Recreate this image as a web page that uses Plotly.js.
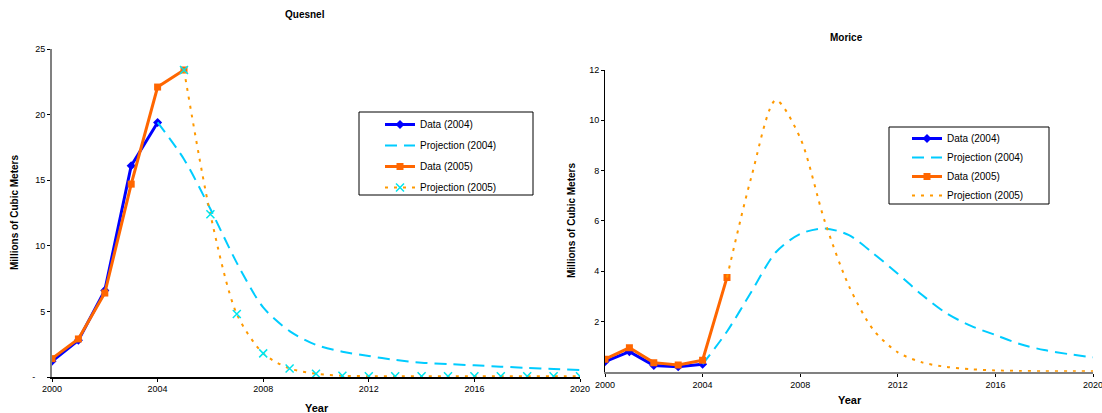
<!DOCTYPE html>
<html>
<head>
<meta charset="utf-8">
<script src="https://cdn.plot.ly/plotly-3.0.1.min.js"></script>
<style>html,body{margin:0;padding:0;background:#fff;}#chart{width:1102px;height:413px;}</style>
</head>
<body>
<div id="chart"></div>
<script>
// ---- Data ----
const qYearsData04 = [2000, 2001, 2002, 2003, 2004];
const qData04 = [1.2, 2.8, 6.6, 16.1, 19.4];
const qYearsData05 = [2000, 2001, 2002, 2003, 2004, 2005];
const qData05 = [1.4, 2.9, 6.4, 14.7, 22.1, 23.4];
const qYearsProj04 = [2004, 2005, 2006, 2007, 2008, 2009, 2010, 2011, 2012, 2013, 2014, 2015, 2016, 2017, 2018, 2019, 2020];
const qProj04 = [19.4, 16.6, 12.8, 8.7, 5.3, 3.5, 2.45, 1.93, 1.6, 1.3, 1.09, 0.99, 0.89, 0.79, 0.69, 0.61, 0.53];
const qYearsProj05 = [2005, 2006, 2007, 2008, 2009, 2010, 2011, 2012, 2013, 2014, 2015, 2016, 2017, 2018, 2019, 2020];
const qProj05 = [23.4, 12.4, 4.8, 1.8, 0.65, 0.25, 0.1, 0.06, 0.05, 0.05, 0.05, 0.05, 0.05, 0.05, 0.05, 0.05];

const mYearsData04 = [2000, 2001, 2002, 2003, 2004];
const mData04 = [0.4, 0.8, 0.25, 0.2, 0.3];
const mYearsData05 = [2000, 2001, 2002, 2003, 2004, 2005];
const mData05 = [0.5, 0.95, 0.36, 0.27, 0.46, 3.75];
const mYearsProj04 = [2004, 2005, 2006, 2007, 2008, 2009, 2010, 2011, 2012, 2013, 2014, 2015, 2016, 2017, 2018, 2019, 2020];
const mProj04 = [0.3, 1.6, 3.18, 4.75, 5.48, 5.7, 5.43, 4.7, 3.9, 3.05, 2.32, 1.82, 1.46, 1.1, 0.86, 0.7, 0.57];
const mYearsProj05 = [2005, 2006, 2007, 2008, 2009, 2010, 2011, 2012, 2013, 2014, 2015, 2016, 2017, 2018, 2019, 2020];
const mProj05 = [3.75, 7.75, 10.8, 9.3, 6.0, 3.4, 1.66, 0.77, 0.37, 0.19, 0.1, 0.05, 0.03, 0.02, 0.02, 0.02];

const xTickVals = [2000, 2004, 2008, 2012, 2016, 2020];
const qYTickVals = [0, 5, 10, 15, 20, 25];
const qYTickText = ['-\u00a0\u00a0\u00a0\u00a0', '5', '10', '15', '20', '25'];
const mYTickVals = [2, 4, 6, 8, 10, 12];
const legendNames = ['Data (2004)', 'Projection (2004)', 'Data (2005)', 'Projection (2005)'];

// ---- Styles ----
const BLUE = '#0000ff', CYAN = '#00ccff', ORANGE = '#ff6600', GOLD = '#ff9900';
const W = 1102, H = 413;
const F = 'Arial, "Liberation Sans", Helvetica, sans-serif';
const SM = 0.8;

const traces = [
  {x: qYearsData04, y: qData04, name: legendNames[0], mode: 'lines+markers', xaxis: 'x', yaxis: 'y', legend: 'legend', legendgroup: 'q1',
   line: {color: BLUE, width: 3}, marker: {symbol: 'diamond', size: 7, color: BLUE}},
  {x: qYearsProj04, y: qProj04, name: legendNames[1], mode: 'lines', xaxis: 'x', yaxis: 'y', legend: 'legend', legendgroup: 'q2',
   line: {color: CYAN, width: 2, dash: '12px,7px', shape: 'spline', smoothing: SM}},
  {x: qYearsData05, y: qData05, name: legendNames[2], mode: 'lines+markers', xaxis: 'x', yaxis: 'y', legend: 'legend', legendgroup: 'q3',
   line: {color: ORANGE, width: 3}, marker: {symbol: 'square', size: 7, color: ORANGE}},
  {x: qYearsProj05, y: qProj05, name: legendNames[3], mode: 'lines+markers', xaxis: 'x', yaxis: 'y', legend: 'legend', legendgroup: 'q4',
   line: {color: GOLD, width: 2, dash: '3px,6px', shape: 'spline', smoothing: SM},
   marker: {symbol: 'x-thin-open', size: 8, color: '#00e5ee', line: {color: '#00e5ee', width: 1.5}}},

  {x: mYearsData04, y: mData04, name: legendNames[0], mode: 'lines+markers', xaxis: 'x2', yaxis: 'y2', legend: 'legend2',
   line: {color: BLUE, width: 3}, marker: {symbol: 'diamond', size: 7, color: BLUE}},
  {x: mYearsProj04, y: mProj04, name: legendNames[1], mode: 'lines', xaxis: 'x2', yaxis: 'y2', legend: 'legend2',
   line: {color: CYAN, width: 2, dash: '12px,7px', shape: 'spline', smoothing: SM}},
  {x: mYearsData05, y: mData05, name: legendNames[2], mode: 'lines+markers', xaxis: 'x2', yaxis: 'y2', legend: 'legend2',
   line: {color: ORANGE, width: 3}, marker: {symbol: 'square', size: 7, color: ORANGE}},
  {x: mYearsProj05, y: mProj05, name: legendNames[3], mode: 'lines', xaxis: 'x2', yaxis: 'y2', legend: 'legend2',
   line: {color: GOLD, width: 2, dash: '3px,6px', shape: 'spline', smoothing: SM}}
];

const tickFont = {family: F, size: 9, color: '#000'};
const baseX = {range: [2000, 2020], tickvals: xTickVals, ticks: 'outside', ticklen: 3, tickcolor: '#000',
  showgrid: false, zeroline: false, showline: true, tickfont: tickFont, ticklabeloverflow: 'allow'};
const baseY = {ticks: 'outside', ticklen: 3, tickcolor: '#000', showgrid: false, zeroline: false, showline: true, tickfont: tickFont};

function ann(text, px, py, size, angle) {
  return {text: text, x: px / W, y: (H - py) / H, xref: 'paper', yref: 'paper', showarrow: false,
    xanchor: 'center', yanchor: 'middle', textangle: angle || 0, font: {size: size, family: F, color: '#000'}};
}

const layout = {
  width: W, height: H,
  margin: {l: 0, r: 0, t: 0, b: 0},
  paper_bgcolor: '#fff', plot_bgcolor: 'rgba(0,0,0,0)',
  font: {family: F, color: '#000'},
  xaxis: Object.assign({}, baseX, {domain: [52 / W, 580 / W], anchor: 'y', linecolor: '#000', linewidth: 1.5}),
  yaxis: Object.assign({}, baseY, {domain: [(H - 377) / H, (H - 49) / H], anchor: 'x', range: [0, 25],
    tickvals: qYTickVals, ticktext: qYTickText, linecolor: '#808080', linewidth: 2}),
  xaxis2: Object.assign({}, baseX, {domain: [605 / W, 1093 / W], anchor: 'y2', linecolor: '#808080', linewidth: 2}),
  yaxis2: Object.assign({}, baseY, {domain: [(H - 371.7) / H, (H - 70) / H], anchor: 'x2', range: [0, 12],
    tickvals: mYTickVals, linecolor: '#000', linewidth: 1}),
  shapes: [
    {type: 'rect', xref: 'paper', yref: 'paper', x0: 359 / W, x1: 533 / W, y0: (H - 195) / H, y1: (H - 112) / H,
     line: {color: '#000', width: 1}, fillcolor: '#fff', layer: 'above'},
    {type: 'rect', xref: 'paper', yref: 'paper', x0: 889 / W, x1: 1049 / W, y0: (H - 204) / H, y1: (H - 127) / H,
     line: {color: '#000', width: 1}, fillcolor: '#fff', layer: 'above'}
  ],
  legend: {x: 380 / W, y: (H - 110) / H, xanchor: 'left', yanchor: 'top', bgcolor: 'rgba(0,0,0,0)',
    borderwidth: 0, font: {family: F, size: 10, color: '#000'}, tracegroupgap: 2, itemwidth: 30},
  legend2: {x: 907 / W, y: (H - 124) / H, xanchor: 'left', yanchor: 'top', bgcolor: 'rgba(0,0,0,0)',
    borderwidth: 0, font: {family: F, size: 10, color: '#000'}, tracegroupgap: 0, itemwidth: 30},
  annotations: [
    ann('<b>Quesnel</b>', 305, 14, 10),
    ann('<b>Morice</b>', 846, 37, 10),
    ann('<b>Year</b>', 317, 408, 11),
    ann('<b>Year</b>', 850, 400, 11),
    ann('<b>Millions of Cubic Meters</b>', 14, 213, 10, -90),
    ann('<b>Millions of Cubic Meters</b>', 571, 221, 10, -90)
  ]
};

Plotly.newPlot('chart', traces, layout, {displayModeBar: false, staticPlot: true});
</script>
</body>
</html>
